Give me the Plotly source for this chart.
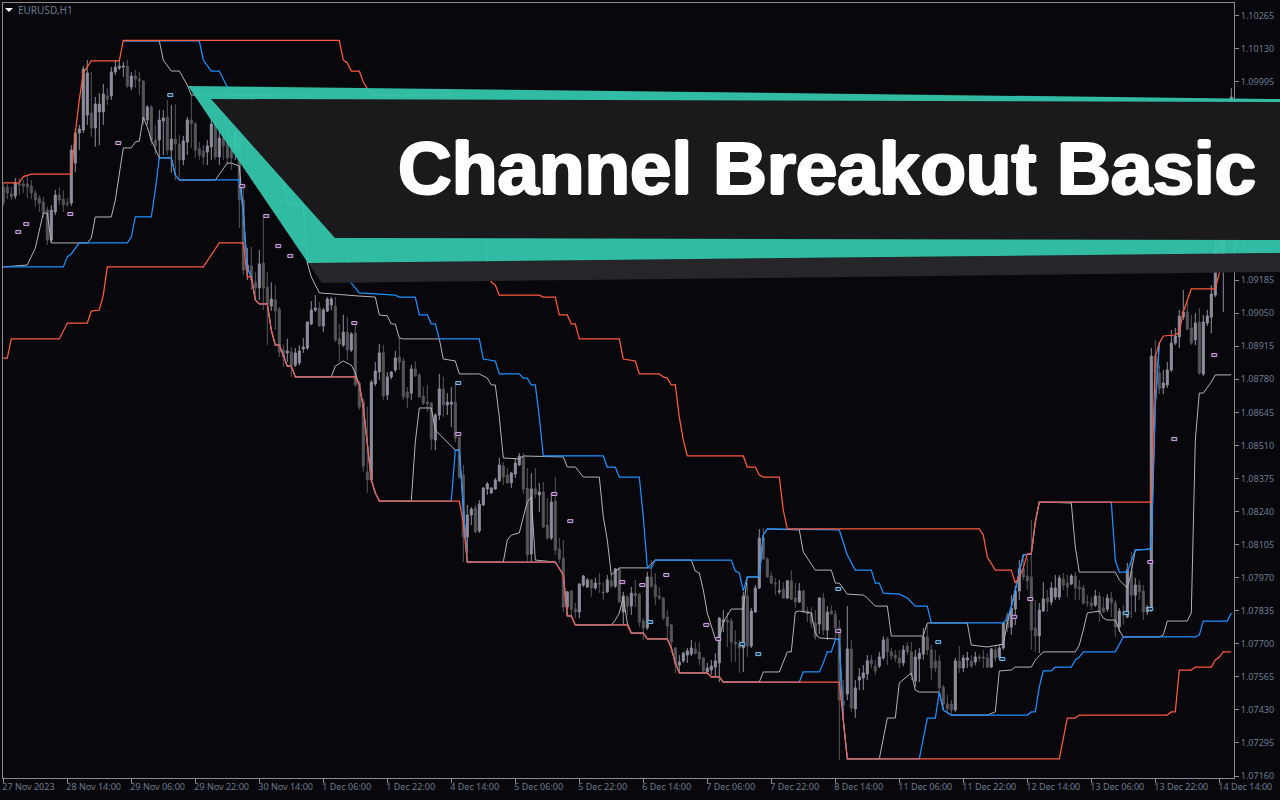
import plotly.graph_objects as go

# All prices are in points above 1.00000 (9565 means 1.09565)
opens = [9565,9565,9537,9529,9578,9578,9578,9569,9541,9520,
9504,9471,9349,9463,9533,9516,9500,9500,9663,9786,
9798,9859,9868,9806,9872,9872,9937,9937,10035,10051,
10055,10059,9974,10019,10006,9998,9839,9892,9757,9757,
9835,9851,9716,9761,9741,9676,9749,9839,9823,9721,
9712,9708,9729,9823,9688,9765,9745,9716,9716,9786,
9512,9226,9243,9177,9153,9255,9157,9079,9104,9067,
8900,8888,8892,8838,8847,8904,8908,9006,9063,9071,
8998,9059,9084,9079,8945,8920,8973,8900,8969,8765,
8691,8402,8369,8761,8810,8888,8716,8790,8818,8871,
8855,8728,8724,8822,8798,8712,8687,8683,8532,8634,
8741,8675,8679,8687,8544,8389,8136,8226,8255,8161,
8267,8332,8316,8332,8365,8426,8389,8357,8393,8430,
8463,8336,8067,8332,8308,8320,8185,8132,8283,8087,
8050,7850,7916,7842,7830,7940,7932,7961,7928,7948,
7912,7912,7957,7936,8006,7830,7891,7854,7907,7903,
7793,7765,7973,7940,7895,7887,7809,7777,7683,7613,
7630,7654,7658,7679,7667,7642,7585,7593,7605,7622,
7789,7797,7793,7707,7699,7683,7895,7691,7830,7928,
8132,8046,7977,7948,7912,7924,7887,7957,7887,7871,
7916,7834,7826,7785,7781,7887,7756,7834,7822,7765,
7466,7495,7679,7434,7552,7560,7577,7634,7609,7609,
7642,7720,7667,7654,7642,7622,7691,7667,7548,7638,
7658,7728,7675,7630,7630,7524,7454,7454,7430,7630,
7601,7634,7630,7626,7646,7646,7642,7605,7675,7646,
7683,7818,7769,7842,7916,8006,7977,7973,7765,7732,
7834,7887,7871,7891,7891,7965,7948,7944,7977,7932,
7928,7871,7867,7858,7895,7846,7842,7887,7867,7769,
7830,7809,7997,7899,7940,7916,7830,7838,8875,8806,
8745,8757,8818,8928,8953,9034,9055,8990,8941,9014,
8802,9010,9034,9124,9349,9235,9635,9798]
highs = [9582,9578,9565,9602,9602,9594,9610,9594,9553,9533,
9525,9484,9492,9553,9565,9553,9520,9737,9806,9819,
10059,10084,10035,9933,9949,9986,9970,10055,10084,10084,
10076,10084,10035,10043,10035,10002,9900,9900,9819,9880,
9880,9921,9900,9904,9778,9774,9851,9941,9831,9749,
9737,9757,9847,9839,9790,9798,9798,9778,9798,9786,
9574,9316,9320,9218,9308,9451,9218,9177,9165,9075,
8920,8945,8912,8908,8920,8949,9014,9100,9124,9096,
9071,9116,9116,9116,9006,9043,9034,8973,9010,8773,
8700,8667,8777,8851,8924,8920,8810,8814,8896,8949,
8867,8749,8839,8855,8806,8749,8757,8687,8642,8802,
8790,8724,8749,8761,8548,8430,8267,8259,8267,8287,
8340,8361,8340,8377,8459,8442,8418,8402,8459,8479,
8479,8418,8397,8418,8357,8361,8295,8316,8381,8132,
8124,7916,7920,7867,7948,7981,7969,7965,7969,7989,
7952,7981,7981,8010,8010,7912,7899,7932,7961,7907,
7805,7993,8042,7989,7932,7891,7838,7781,7687,7654,
7667,7683,7716,7707,7707,7646,7622,7634,7662,7809,
7838,7830,7805,7756,7716,7912,7948,7846,7940,8169,
8173,8054,7993,7969,7961,7952,7961,8001,7948,7948,
7920,7850,7850,7838,7891,7907,7854,7858,7838,7797,
7552,7854,7716,7552,7601,7613,7654,7654,7634,7667,
7732,7728,7683,7675,7675,7695,7707,7707,7675,7683,
7765,7777,7695,7675,7654,7532,7491,7470,7642,7691,
7654,7667,7654,7667,7658,7675,7662,7683,7691,7695,
7789,7830,7899,7936,8042,8063,8050,8206,7879,7867,
7952,7920,7952,7981,7981,7989,7981,7985,7993,7961,
7940,7899,7891,7920,7912,7891,7903,7912,7879,7846,
7858,8030,8075,7969,7961,7940,7858,8908,8941,8839,
8818,8851,8981,8990,9063,9145,9104,9043,9051,9071,
9043,9063,9165,9349,9390,9553,9839,9970]
lows = [9488,9516,9512,9516,9533,9541,9520,9516,9484,9463,
9439,9328,9337,9451,9492,9463,9484,9488,9627,9716,
9786,9819,9770,9729,9737,9819,9900,9921,10023,10043,
10015,9970,9961,9970,9941,9819,9819,9737,9696,9676,
9696,9696,9623,9594,9602,9655,9696,9725,9684,9676,
9655,9655,9676,9676,9655,9676,9655,9635,9676,9398,
9206,9186,9145,9104,9104,9063,8920,9059,8981,8871,
8830,8851,8790,8830,8838,8888,8900,9002,9055,8994,
8973,9055,9063,8932,8851,8912,8859,8892,8749,8655,
8402,8316,8361,8753,8777,8696,8696,8781,8810,8818,
8696,8663,8696,8790,8704,8675,8647,8491,8491,8614,
8626,8634,8585,8524,8373,8034,8071,8185,8153,8153,
8263,8308,8312,8328,8361,8348,8353,8336,8377,8426,
8312,8034,8034,8295,8238,8173,8124,8124,8063,8030,
7830,7838,7809,7805,7805,7932,7928,7891,7920,7907,
7879,7907,7928,7928,7867,7777,7818,7818,7850,7769,
7716,7756,7928,7858,7879,7797,7724,7662,7581,7581,
7622,7622,7650,7654,7613,7585,7581,7573,7565,7544,
7748,7687,7626,7626,7581,7585,7646,7683,7826,7924,
8042,7969,7944,7899,7903,7883,7883,7879,7846,7867,
7826,7789,7765,7716,7740,7736,7716,7818,7716,7225,
7389,7470,7422,7397,7511,7511,7552,7601,7573,7601,
7634,7613,7634,7626,7601,7609,7654,7552,7524,7544,
7634,7654,7552,7585,7491,7430,7422,7413,7422,7581,
7585,7601,7601,7613,7626,7601,7601,7601,7626,7634,
7675,7748,7736,7777,7879,7961,7920,7675,7667,7662,
7830,7830,7858,7879,7879,7920,7891,7940,7879,7879,
7858,7850,7838,7850,7789,7826,7830,7809,7728,7748,
7777,7805,7805,7830,7879,7797,7818,7830,8716,8720,
8720,8745,8810,8920,8908,9022,8981,8920,8920,8798,
8794,8998,8969,9116,9226,9055,9614,9778]
closes = [9500,9541,9525,9582,9574,9569,9565,9541,9512,9500,
9459,9349,9471,9533,9512,9492,9496,9716,9786,9802,
10047,10031,9806,9904,9904,9945,9925,10035,10055,10059,
10059,9978,10019,10006,9998,9839,9892,9757,9733,9839,
9847,9716,9761,9741,9676,9753,9839,9823,9716,9696,
9688,9733,9823,9688,9765,9733,9684,9684,9786,9512,
9226,9247,9186,9153,9251,9153,9088,9108,9059,8892,
8871,8896,8838,8888,8896,8912,9014,9063,9071,8998,
9063,9108,9108,8941,8924,8973,8900,8965,8757,8667,
8426,8369,8769,8814,8888,8712,8790,8810,8867,8851,
8708,8704,8822,8794,8708,8683,8679,8536,8634,8741,
8675,8687,8687,8540,8381,8136,8226,8250,8157,8271,
8336,8353,8336,8369,8430,8381,8357,8397,8438,8467,
8332,8063,8332,8312,8320,8177,8132,8279,8083,8046,
7850,7912,7842,7830,7944,7977,7961,7928,7948,7944,
7907,7961,7936,8006,7871,7895,7854,7907,7895,7789,
7765,7973,7936,7891,7887,7805,7773,7707,7618,7626,
7662,7671,7683,7662,7638,7589,7601,7609,7630,7805,
7797,7789,7707,7699,7683,7895,7691,7834,7928,8132,
8046,7973,7948,7944,7916,7887,7957,7883,7871,7916,
7830,7822,7785,7728,7887,7756,7830,7822,7765,7470,
7450,7679,7438,7520,7565,7581,7630,7618,7589,7646,
7716,7667,7650,7642,7622,7675,7667,7573,7646,7662,
7728,7675,7601,7601,7520,7454,7434,7430,7630,7601,
7642,7642,7609,7646,7642,7642,7605,7679,7642,7683,
7785,7765,7846,7916,8006,7973,7957,7756,7732,7838,
7883,7871,7928,7928,7969,7940,7932,7977,7928,7924,
7867,7867,7854,7895,7830,7830,7887,7867,7769,7834,
7818,8001,7899,7940,7912,7830,7850,8875,8806,8741,
8765,8818,8928,8957,9039,9055,8985,8928,9010,8806,
9014,9039,9128,9308,9259,9512,9798,9933]

red_up_i = [0,4,5,7,17,18,19,20,22,29,30,84,85,86,87,89,90,92,112,115,116,120,121,122,123,124,134,135,138,139,141,142,143,144,154,155,158,159,164,165,166,167,168,169,170,171,185,186,188,189,190,194,195,196,244,245,246,248,252,253,254,255,256,257,258,259,287,288,289,290,293,294,295,296,297,303,304,305,307]
red_up_p = [9582,9582,9608,9618,9618,9786,9921,10031,10080,10080,10164,10164,10084,10072,10039,10039,9994,9941,9941,9586,9496,9496,9255,9177,9165,9124,9124,9116,9116,9043,9043,9006,9006,8945,8945,8863,8855,8802,8802,8790,8785,8757,8757,8626,8532,8467,8467,8422,8422,8389,8381,8381,8246,8169,8169,8144,8054,8001,8001,7948,7973,8009,8067,8067,8197,8279,8279,8871,8928,8957,8961,8973,9055,9104,9149,9149,9214,9296,9900]

red_lo_i = [0,1,2,14,16,21,22,24,25,26,50,52,54,60,61,62,63,64,66,67,68,69,70,71,72,73,88,89,90,91,92,93,94,114,115,116,138,140,141,142,143,156,157,160,161,166,167,168,169,176,177,179,180,209,210,211,264,265,266,268,269,291,292,293,294,297,298,302,303,304,305,307]
red_lo_p = [8867,8867,8945,8945,9010,9010,9059,9063,9124,9239,9239,9288,9337,9337,9198,9198,9104,9088,9088,8981,8920,8920,8879,8834,8834,8790,8790,8757,8667,8504,8369,8316,8283,8283,8193,8034,8034,7981,7814,7814,7777,7777,7744,7744,7720,7720,7683,7622,7581,7581,7565,7565,7544,7544,7389,7230,7230,7320,7397,7397,7409,7409,7422,7422,7593,7593,7605,7605,7634,7646,7667,7667]

blue_up_i = [30,49,50,52,54,56,57,77,80,81,85,86,87,89,98,99,103,104,106,107,108,109,119,120,123,124,129,130,131,132,133,134,135,150,151,153,154,159,160,161,162,163,182,183,184,185,186,189,190,191,209,211,213,217,218,219,220,224,226,228,231,232,250,251,252,253,254,255,257,258,259,277,278,279,281,283,287,288,289]
blue_up_p = [10162,10162,10084,10039,10039,9970,9941,9941,9586,9496,9496,9255,9173,9133,9124,9116,9116,9043,9043,9006,9006,8945,8945,8863,8855,8802,8802,8785,8785,8757,8757,8626,8467,8467,8422,8422,8381,8381,8218,8010,8010,8042,8042,7997,7989,7916,7973,7973,8144,8169,8165,8063,8001,8001,7948,7948,7907,7903,7887,7854,7854,7785,7785,7805,7850,7920,7989,8063,8067,8197,8279,8279,8042,7993,7993,8083,8087,8675,8928]

blue_lo_i = [0,15,16,17,19,31,32,33,37,38,39,42,43,44,59,60,61,62,63,64,66,67,68,69,70,71,72,73,88,89,90,91,92,93,94,112,113,114,115,116,138,140,141,142,143,156,157,160,161,166,167,168,169,176,177,179,180,199,200,204,205,206,207,208,209,210,211,229,231,233,234,235,237,256,257,258,259,260,262,263,267,268,269,270,278,279,280,298,299,300,306,307]
blue_lo_p = [9239,9239,9280,9292,9337,9337,9361,9443,9443,9553,9684,9684,9614,9594,9594,9459,9235,9198,9104,9088,9088,8981,8920,8920,8879,8834,8834,8790,8790,8757,8667,8504,8369,8316,8283,8283,8491,8491,8246,8034,8034,7981,7814,7814,7777,7777,7744,7744,7720,7720,7683,7622,7581,7581,7565,7565,7544,7544,7585,7585,7622,7667,7667,7716,7720,7389,7230,7230,7397,7397,7503,7430,7409,7409,7422,7422,7524,7589,7589,7605,7605,7634,7646,7667,7667,7695,7728,7728,7736,7793,7793,7826]

gray_up_i = [30,39,40,42,44,46,47,67,70,71,75,76,77,79,89,93,94,96,97,98,99,100,109,110,113,114,119,121,122,123,124,125,129,130,140,141,143,145,149,150,151,152,154,161,163,172,173,174,175,176,178,179,180,182,185,186,189,190,191,199,200,203,207,208,209,211,215,216,218,221,222,230,231,241,242,246,250,251,252,253,254,255,257,258,259,267,268,269,278,279,281,282,283,287,288,289]
gray_up_p = [10162,10162,10084,10039,10039,9982,9941,9941,9586,9496,9496,9255,9198,9133,9120,9116,9043,9039,9006,9006,8949,8945,8945,8863,8855,8802,8802,8785,8757,8757,8626,8459,8455,8467,8463,8422,8422,8381,8381,8218,8124,7981,8010,8010,8042,8042,7997,7989,7920,7826,7720,7720,7789,7842,7842,7973,7973,8144,8169,8165,8075,8001,8001,7948,7948,7903,7899,7887,7854,7854,7732,7732,7785,7785,7695,7687,7699,7785,7850,7920,7989,8063,8067,8197,8279,8275,8095,7993,7993,7961,7928,7993,8083,8087,8675,8928]

gray_lo_i = [0,6,8,10,11,12,21,22,23,27,28,30,32,33,34,35,36,37,39,42,43,44,53,55,56,57,59,60,61,62,63,64,66,67,68,69,70,71,72,73,82,83,85,87,88,89,90,91,92,93,94,102,103,104,107,108,113,114,115,116,125,126,127,129,130,131,132,133,138,140,141,142,143,152,153,154,155,156,157,160,161,166,167,168,169,176,177,179,180,189,190,194,195,196,197,198,199,202,203,204,208,209,210,211,219,221,223,224,227,228,229,234,235,237,246,248,249,252,253,257,258,260,268,269,270,271,274,275,276,278,279,280,289,290,291,296,297,298,299,300,302,303,307]
gray_lo_p = [9239,9247,9316,9459,9459,9337,9337,9357,9443,9443,9512,9725,9725,9749,9753,9851,9810,9757,9684,9684,9614,9594,9594,9643,9663,9663,9651,9459,9235,9198,9104,9088,9088,8981,8920,8920,8879,8834,8834,8790,8790,8834,8855,8838,8806,8757,8667,8504,8369,8316,8283,8283,8524,8663,8663,8573,8491,8491,8246,8034,8034,8124,8144,8153,8218,8279,8299,8042,8034,7981,7814,7814,7777,7777,7797,7826,7891,7785,7744,7744,7720,7720,7683,7622,7581,7581,7565,7565,7544,7544,7585,7585,7626,7667,7667,7830,7834,7826,7744,7724,7720,7716,7389,7230,7230,7397,7397,7540,7581,7511,7503,7503,7430,7409,7409,7422,7589,7593,7605,7605,7634,7667,7667,7695,7756,7826,7834,7805,7797,7797,7756,7728,7728,7736,7793,7793,7826,8532,8724,8724,8769,8798,8798]

pink_i = [4,6,17,29,60,66,69,72,88,114,138,142,155,160,166,176,179,209,253,257,287,293,303]
pink_p = [9382,9414,9455,9745,9569,9447,9324,9284,9010,8557,8312,8201,7952,7940,7981,7777,7720,7752,7810,7883,8034,8536,8879]
sky_i = [42,114,162,185,189,209,234,250,281,287]
sky_p = [9941,8765,7789,7699,7658,7924,7707,7638,7826,7842]

y_ticks = [10265,10130,9995,9860,9725,9590,9455,9320,9185,9050,8915,8780,8645,8510,8375,8240,8105,7970,7835,7700,7565,7430,7295,7160]
# these four tick labels lie fully behind the banner in the reference
y_hidden_labels = [9860,9725,9590,9455]
x_tick_i = [0,16,32,48,64,80,96,112,128,144,160,176,192,208,224,240,256,272,288,304]
x_tick_text = ["27 Nov 2023","28 Nov 14:00","29 Nov 06:00","29 Nov 22:00","30 Nov 14:00","1 Dec 06:00","1 Dec 22:00","4 Dec 14:00","5 Dec 06:00","5 Dec 22:00","6 Dec 14:00","7 Dec 06:00","7 Dec 22:00","8 Dec 14:00","11 Dec 06:00","11 Dec 22:00","12 Dec 14:00","13 Dec 06:00","13 Dec 22:00","14 Dec 14:00"]

BG = "#07070c"
FRAME = "#8a8a90"
LABEL = "#6b7c8e"
L, R, T, B = 3, 1234, 3, 778
FONT = "Noto Sans"


def price(points):
    return [1 + v / 100000 for v in points]


fig = go.Figure()
fig.add_trace(go.Candlestick(
    x=list(range(len(opens))), open=price(opens), high=price(highs), low=price(lows), close=price(closes),
    increasing=dict(line=dict(color="#8f8f9d", width=1), fillcolor="#8f8f9d"),
    decreasing=dict(line=dict(color="#55555a", width=1), fillcolor="#55555a"),
    whiskerwidth=0, hoverinfo="skip", showlegend=False))

for xs, ys, col, w in [(gray_up_i, gray_up_p, "#b4b4b4", 1), (gray_lo_i, gray_lo_p, "#b4b4b4", 1),
                       (blue_up_i, blue_up_p, "#1e8fff", 1.25), (blue_lo_i, blue_lo_p, "#1e8fff", 1.25),
                       (red_up_i, red_up_p, "#ff5a3c", 1.25), (red_lo_i, red_lo_p, "#ff5a3c", 1.25)]:
    fig.add_trace(go.Scatter(x=xs, y=price(ys), mode="lines", line=dict(color=col, width=w),
                             hoverinfo="skip", showlegend=False))

shapes = []
for xs, ys, col in [(pink_i, pink_p, "#dca4ec"), (sky_i, sky_p, "#6fc4f5")]:
    for i, p in zip(xs, price(ys)):
        shapes.append(dict(type="rect", xref="x", yref="y", xsizemode="pixel", ysizemode="pixel",
                           xanchor=i, yanchor=p, x0=-3.5, x1=1.5, y0=-1.5, y1=1.5,
                           line=dict(color=col, width=1), fillcolor="#2a2a3a", layer="above"))


def pth(points):
    """Banner outline given in page pixels, expressed on the paper axis."""
    pts = [((x - L) / (R - L), (B - y) / (B - T)) for x, y in points]
    return "M" + " L".join(f"{a:.5f},{b:.5f}" for a, b in pts) + " Z"


for pts, col, op in [([(308, 263), (322, 283), (1280, 272), (1280, 253)], "#25252a", 0.99),
                     ([(188, 86), (1280, 99), (1280, 253), (308, 263)], "#33c5ab", 0.95),
                     ([(211, 99), (1280, 102), (1280, 240), (335, 238)], "#1a1a1c", 1)]:
    shapes.append(dict(type="path", xref="paper", yref="paper", path=pth(pts), fillcolor=col,
                       opacity=op, line=dict(width=0), layer="above"))
shapes.append(dict(type="path", xref="paper", yref="paper", path=pth([(5, 8), (13, 8), (9, 12)]),
                   fillcolor="#ffffff", line=dict(width=0), layer="above"))

annotations = [
    dict(text="<b>Channel Breakout Basic</b>", xref="paper", yref="paper", x=(1258 - L) / (R - L),
         y=(B - 168) / (B - T), xanchor="right", yanchor="middle", showarrow=False,
         font=dict(family="Liberation Sans", size=74.6, color="#ffffff",
                   shadow="1.3px 0 0 #fff,-1.3px 0 0 #fff,0 1.1px 0 #fff,0 -1.1px 0 #fff")),
    dict(text="EURUSD,H1", xref="paper", yref="paper", x=(16 - L) / (R - L), y=(B - 10) / (B - T),
         xanchor="left", yanchor="middle", showarrow=False, font=dict(family=FONT, size=10, color=LABEL)),
]

fig.update_layout(
    width=1280, height=800, paper_bgcolor=BG, plot_bgcolor=BG, showlegend=False,
    margin=dict(l=L, r=1280 - R, t=T, b=800 - B, pad=0), boxgap=0.28,
    shapes=shapes, annotations=annotations,
    xaxis=dict(range=[(L - 3.3) / 4, (R - 3.3) / 4], rangeslider=dict(visible=False), showgrid=False,
               zeroline=False, showline=True, mirror=True, linecolor=FRAME, linewidth=1,
               tickmode="array", tickvals=x_tick_i, ticktext=x_tick_text, ticks="outside", ticklen=4,
               tickcolor=FRAME, ticklabelposition="outside right", ticklabelshift=-2,
               tickfont=dict(family=FONT, size=9, color=LABEL)),
    yaxis=dict(range=[1 + (10329 - 4.0835 * B) / 100000, 1 + (10329 - 4.0835 * T) / 100000], side="right",
               showgrid=False, zeroline=False, showline=True, mirror=True, linecolor=FRAME, linewidth=1,
               tickmode="array", tickvals=price(y_ticks),
               ticktext=["" if v in y_hidden_labels else f"{1 + v / 100000:.5f}" for v in y_ticks],
               ticks="outside", ticklen=4, tickcolor=FRAME,
               tickfont=dict(family=FONT, size=9, color=LABEL)),
)
fig.write_html("out.html", config={"displayModeBar": False},
               post_script="document.body.style.margin='0';document.body.style.overflow='hidden';")
